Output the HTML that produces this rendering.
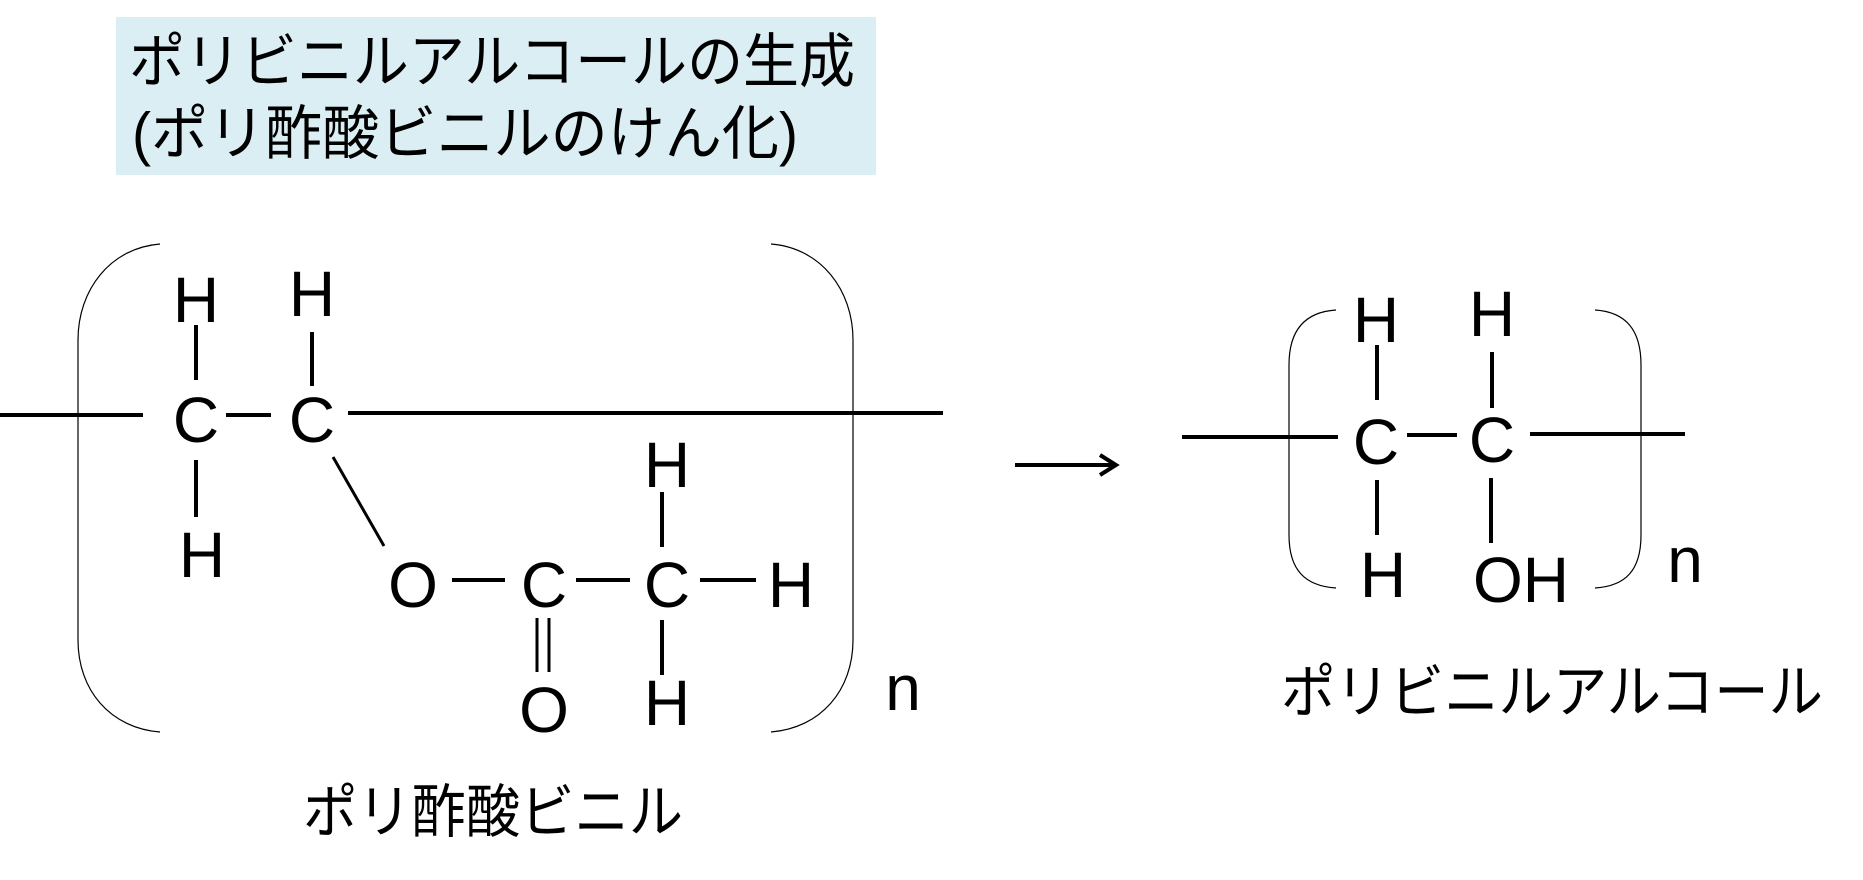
<!DOCTYPE html>
<html><head><meta charset="utf-8"><style>
html,body{margin:0;padding:0;background:#fff;}
svg{display:block;}
.a{font-family:"Liberation Sans",sans-serif;font-size:64px;fill:#000;}
.j{font-family:"Liberation Sans","Noto Sans CJK JP",sans-serif;fill:#000;}
</style></head><body>
<svg width="1863" height="880" viewBox="0 0 1863 880" xmlns="http://www.w3.org/2000/svg">
<rect x="116" y="17" width="760" height="158" fill="#daeef3"/>
<text class="j" x="129" y="82" font-size="59" textLength="726" lengthAdjust="spacingAndGlyphs">ポリビニルアルコールの生成</text>
<text class="j" x="132" y="154" font-size="59" textLength="666" lengthAdjust="spacingAndGlyphs">(ポリ酢酸ビニルのけん化)</text>

<g stroke="#000" stroke-width="4" fill="none">
<line x1="0" y1="415" x2="143" y2="415"/>
<line x1="226" y1="415" x2="271" y2="415"/>
<line x1="348" y1="413" x2="943" y2="413"/>
<line x1="196" y1="325" x2="196" y2="380"/>
<line x1="196" y1="460" x2="196" y2="517"/>
<line x1="312" y1="332" x2="312" y2="386"/>
<line x1="333" y1="457" x2="384" y2="546" stroke-width="3"/>
<line x1="452" y1="580" x2="505" y2="580"/>
<line x1="576" y1="580" x2="630" y2="580"/>
<line x1="700" y1="580" x2="756" y2="580"/>
<line x1="537" y1="618" x2="537" y2="672" stroke-width="3"/>
<line x1="549" y1="618" x2="549" y2="672" stroke-width="3"/>
<line x1="662" y1="492" x2="662" y2="547"/>
<line x1="662" y1="620" x2="662" y2="675"/>

<line x1="1015" y1="465" x2="1114" y2="465"/>
<polyline points="1100,455 1116,465 1100,475" stroke-width="4"/>

<line x1="1182" y1="437" x2="1338" y2="437"/>
<line x1="1407" y1="435" x2="1457" y2="435"/>
<line x1="1530" y1="434" x2="1685" y2="434"/>
<line x1="1377" y1="345" x2="1377" y2="400"/>
<line x1="1377" y1="480" x2="1377" y2="535"/>
<line x1="1492" y1="352" x2="1492" y2="408"/>
<line x1="1491" y1="478" x2="1491" y2="543"/>
</g>
<g stroke="#000" stroke-width="1.2" fill="none">
<path d="M160 244 C110 248 78 290 78 340 L78 640 C78 690 110 728 160 732"/>
<path d="M771 244 C821 248 853 290 853 340 L853 640 C853 690 821 728 771 732"/>
<path d="M1336 310 C1305 312 1289 330 1289 365 L1289 535 C1289 570 1305 586 1336 588"/>
<path d="M1595 310 C1626 312 1641 330 1641 365 L1641 535 C1641 570 1626 586 1595 588"/>
</g>

<g class="a" text-anchor="middle" dominant-baseline="central">
<text x="196" y="300">H</text>
<text x="312" y="294">H</text>
<text x="196" y="420">C</text>
<text x="312" y="420">C</text>
<text x="202" y="555">H</text>
<text x="413" y="585">O</text>
<text x="544" y="585">C</text>
<text x="667" y="585">C</text>
<text x="791" y="585">H</text>
<text x="667" y="465">H</text>
<text x="544" y="710">O</text>
<text x="667" y="703">H</text>
<text x="903" y="688">n</text>

<text x="1376" y="320">H</text>
<text x="1492" y="314">H</text>
<text x="1376" y="442">C</text>
<text x="1492" y="440">C</text>
<text x="1383" y="575">H</text>
<text x="1521" y="580">OH</text>
<text x="1685" y="560">n</text>
</g>

<text class="j" x="303" y="832" font-size="58" textLength="380" lengthAdjust="spacingAndGlyphs">ポリ酢酸ビニル</text>
<text class="j" x="1281" y="712" font-size="58" textLength="542" lengthAdjust="spacingAndGlyphs">ポリビニルアルコール</text>
</svg>
</body></html>
